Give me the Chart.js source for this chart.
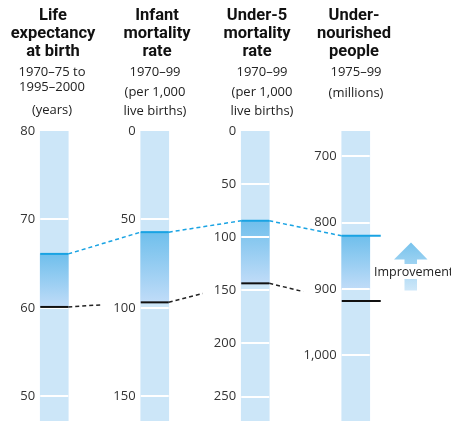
<!DOCTYPE html>
<html>
<head>
<meta charset="utf-8">
<script src="https://cdn.jsdelivr.net/npm/chart.js@4.4.0/dist/chart.umd.min.js"></script>
<style>
  body { margin: 0; background: #fff; overflow: hidden; }
  #wrap { position: relative; width: 451px; height: 421px; font-family: "Open Sans", sans-serif; color: #222; }
  #wrap canvas { position: absolute; left: 0; top: 0; }
  .t { position: absolute; transform: translateX(-50%); white-space: nowrap; text-align: center; }
  .h { font-family: Roboto, sans-serif; font-weight: 700; font-size: 16.5px; line-height: 18px; color: #111; }
  .s { font-size: 13px; line-height: 15px; color: #222; }
  #improve { position: absolute; left: 374px; top: 264px; font-size: 12.5px; line-height: 15px; background: #fff; color: #222; white-space: nowrap; }
</style>
</head>
<body>
<div id="wrap">
  <canvas id="chart" width="451" height="421"></canvas>

  <div class="t h" style="left:53px;top:6px">Life<br>expectancy<br>at birth</div>
  <div class="t s" style="left:52px;top:64px">1970–75 to</div>
  <div class="t s" style="left:52px;top:79px">1995–2000</div>
  <div class="t s" style="left:52px;top:102px">(years)</div>

  <div class="t h" style="left:157px;top:6px">Infant<br>mortality<br>rate</div>
  <div class="t s" style="left:155px;top:64px">1970–99</div>
  <div class="t s" style="left:155px;top:84px">(per 1,000</div>
  <div class="t s" style="left:155px;top:103px">live births)</div>

  <div class="t h" style="left:257px;top:6px">Under-5<br>mortality<br>rate</div>
  <div class="t s" style="left:262px;top:64px">1970–99</div>
  <div class="t s" style="left:262px;top:84px">(per 1,000</div>
  <div class="t s" style="left:262px;top:103px">live births)</div>

  <div class="t h" style="left:354px;top:6px">Under-<br>nourished<br>people</div>
  <div class="t s" style="left:356px;top:64px">1975–99</div>
  <div class="t s" style="left:356px;top:85px">(millions)</div>

  <span id="improve">Improvement</span>
</div>
<script>
// one column per indicator, each on its own scale
const categories = ['Life expectancy', 'Infant mortality', 'Under-5 mortality', 'Undernourished people'];
const earlierValues = [60.1, 96.9, 143.4, 918];   // 1970s level (black line)
const laterValues = [66.1, 57.2, 84.5, 820];      // late 1990s level (blue line)
const shadeEnd = [60.1, 96.9, 143.4, 900];        // where the shaded band stops
const axisMin = [47.2, 0, 0, 662];
const axisMax = [80, 164, 273, 1099];
const tickStep = [10, 50, 50, 100];
const reversedAxis = [false, true, true, true];

// styling
const barColor = '#cce6f8';
const blueLine = '#19a3e3';
const blackLine = '#111111';
const halfBar = 14;
const overhang = [0, 0, 0, 11];

function onlyAt(i, v) {
  return categories.map((c, j) => (j === i ? v : null));
}

const datasets = [];
categories.forEach((c, i) => {
  datasets.push({
    data: onlyAt(i, [axisMin[i], axisMax[i]]),
    yAxisID: 'y' + i,
    backgroundColor: barColor,
    order: 2
  });
});
categories.forEach((c, i) => {
  datasets.push({
    data: onlyAt(i, [laterValues[i], shadeEnd[i]]),
    yAxisID: 'y' + i,
    order: 1,
    backgroundColor: (ctx) => {
      const chart = ctx.chart;
      if (!chart.chartArea) return '#8ccaf0';
      const s = chart.scales['y' + i];
      const top = s.getPixelForValue(laterValues[i]);
      const bottom = s.getPixelForValue(shadeEnd[i]);
      const g = chart.ctx.createLinearGradient(0, top, 0, bottom);
      g.addColorStop(0, '#6fbfec');
      g.addColorStop(1, '#c0dcf8');
      return g;
    }
  });
});

const scales = {
  x: { type: 'category', labels: categories, offset: true, display: false }
};
categories.forEach((c, i) => {
  scales['y' + i] = {
    type: 'linear',
    position: { x: i - 0.19 },
    min: axisMin[i],
    max: axisMax[i],
    reverse: reversedAxis[i],
    grid: { display: false, drawTicks: false },
    border: { display: false },
    ticks: {
      stepSize: tickStep[i],
      includeBounds: false,
      padding: 0,
      color: '#333',
      font: { family: 'Open Sans', size: 13 }
    },
    afterFit: (scale) => {
      scale.paddingTop = 0;
      scale.paddingBottom = 0;
    }
  };
});

const overlay = {
  id: 'overlay',
  afterDatasetsDraw(chart) {
    const { ctx, chartArea } = chart;
    const px = categories.map((c, i) => chart.scales.x.getPixelForValue(i));
    const yOf = (i, v) => chart.scales['y' + i].getPixelForValue(v);
    ctx.save();

    // white tick marks across the columns
    ctx.strokeStyle = '#ffffff';
    ctx.lineWidth = 2;
    categories.forEach((c, i) => {
      chart.scales['y' + i].ticks.forEach(t => {
        const y = Math.round(yOf(i, t.value));
        if (y < chartArea.top + 2) return;
        ctx.beginPath();
        ctx.moveTo(px[i] - halfBar, y);
        ctx.lineTo(px[i] + halfBar, y);
        ctx.stroke();
      });
    });

    // dashed connectors
    ctx.lineWidth = 1.5;
    ctx.setLineDash([4, 3]);
    for (let i = 0; i < categories.length - 1; i++) {
      const x1 = px[i] + halfBar, x2 = px[i + 1] - halfBar;
      ctx.strokeStyle = blueLine;
      ctx.beginPath();
      ctx.moveTo(x1, yOf(i, laterValues[i]));
      ctx.lineTo(x2, yOf(i + 1, laterValues[i + 1]));
      ctx.stroke();

      const ya = yOf(i, earlierValues[i]);
      const yb = yOf(i + 1, earlierValues[i + 1]);
      const f = 0.47;
      ctx.strokeStyle = '#222';
      ctx.beginPath();
      ctx.moveTo(x1, ya);
      ctx.lineTo(x1 + (x2 - x1) * f, ya + (yb - ya) * f);
      ctx.stroke();
    }
    ctx.setLineDash([]);

    // level markers
    ctx.lineWidth = 2;
    categories.forEach((c, i) => {
      [[laterValues[i], blueLine], [earlierValues[i], blackLine]].forEach(([v, col]) => {
        const y = yOf(i, v);
        ctx.strokeStyle = col;
        ctx.beginPath();
        ctx.moveTo(px[i] - halfBar, y);
        ctx.lineTo(px[i] + halfBar + overhang[i], y);
        ctx.stroke();
      });
    });

    // "Improvement" arrow
    const g = ctx.createLinearGradient(0, 242, 0, 291);
    g.addColorStop(0, '#76c2ec');
    g.addColorStop(1, '#d0e8f9');
    ctx.fillStyle = g;
    ctx.beginPath();
    ctx.moveTo(411, 242.5);
    ctx.lineTo(427.5, 259.5);
    ctx.lineTo(417, 259.5);
    ctx.lineTo(417, 290.5);
    ctx.lineTo(404.5, 290.5);
    ctx.lineTo(404.5, 259.5);
    ctx.lineTo(394, 259.5);
    ctx.closePath();
    ctx.fill();

    ctx.restore();
  }
};

new Chart(document.getElementById('chart').getContext('2d'), {
  type: 'bar',
  data: { labels: categories, datasets: datasets },
  options: {
    responsive: false,
    animation: false,
    devicePixelRatio: 1,
    layout: { padding: { top: 131, bottom: 0, left: 4, right: 45 } },
    datasets: { bar: { barThickness: 28, grouped: false, borderWidth: 0 } },
    plugins: { legend: { display: false }, tooltip: { enabled: false }, title: { display: false } },
    scales: scales
  },
  plugins: [overlay]
});
</script>
</body>
</html>
